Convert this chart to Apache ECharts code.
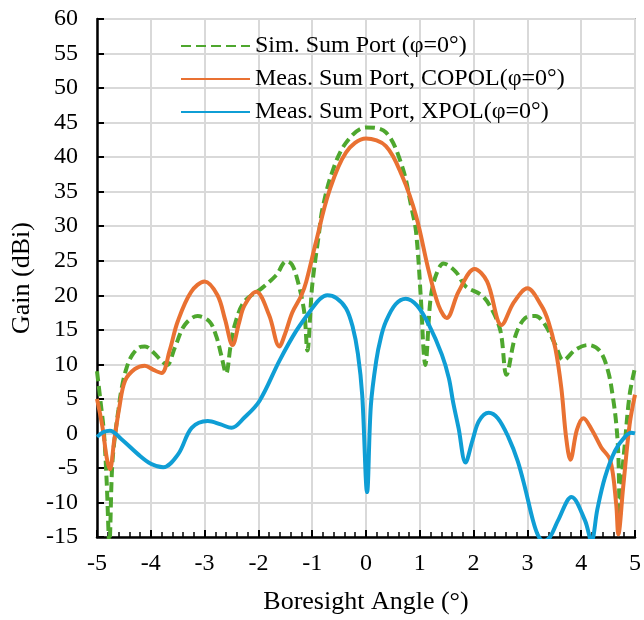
<!DOCTYPE html>
<html>
<head>
<meta charset="utf-8">
<script src="https://cdn.jsdelivr.net/npm/echarts@6/dist/echarts.min.js"></script>
<style>html,body{margin:0;padding:0;background:#fff}#c{width:644px;height:620px}</style>
</head>
<body>
<div id="c"></div>
<script>
const seriesNames = ['Sim. Sum Port (\u03c6=0\u00b0)', 'Meas. Sum Port, COPOL(\u03c6=0\u00b0)', 'Meas. Sum Port, XPOL(\u03c6=0\u00b0)'];
const xTicks = [-5, 5, 1];
const yTicks = [-15, 60, 5];

const simX = [-5.00,-4.94,-4.87,-4.82,-4.77,-4.72,-4.67,-4.60,-4.54,-4.45,-4.35,-4.20,-4.11,-3.95,-3.80,-3.70,-3.55,-3.37,-3.13,-2.91,-2.78,-2.69,-2.60,-2.52,-2.44,-2.26,-1.94,-1.67,-1.48,-1.38,-1.28,-1.15,-1.09,-1.00,-0.87,-0.81,-0.63,-0.37,0.00,0.37,0.67,0.85,0.93,1.02,1.07,1.10,1.20,1.30,1.44,1.67,1.85,2.15,2.33,2.50,2.61,2.78,2.96,3.15,3.33,3.52,3.67,3.89,4.13,4.35,4.50,4.59,4.65,4.69,4.72,4.76,4.81,4.90,5.00];
const simY = [9.0,5.0,0.0,-7.0,-16.0,-5.0,-0.6,3.5,6.6,9.5,11.3,12.5,12.6,11.7,10.5,9.9,12.5,15.7,17.0,16.2,14.0,11.3,8.7,12.5,15.7,19.1,21.0,22.9,24.9,24.5,22.4,17.7,12.0,21.4,29.2,32.5,37.8,42.1,44.3,43.6,38.7,32.5,29.2,19.5,12.0,9.9,19.5,22.9,24.6,23.4,21.3,20.0,18.1,14.8,8.5,14.2,16.7,17.0,15.7,12.8,10.6,12.1,12.8,11.9,9.0,5.2,1.5,-3.0,-12.0,-6.0,-1.6,5.6,9.5];

const copolX = [-5.00,-4.90,-4.82,-4.76,-4.68,-4.58,-4.48,-4.30,-4.11,-3.95,-3.80,-3.65,-3.50,-3.25,-3.00,-2.76,-2.62,-2.48,-2.36,-2.26,-2.04,-1.80,-1.61,-1.50,-1.37,-1.20,-1.11,-0.93,-0.69,-0.37,0.00,0.37,0.67,0.93,1.17,1.35,1.50,1.72,2.02,2.25,2.52,2.75,3.00,3.26,3.39,3.52,3.63,3.72,3.80,3.92,4.04,4.20,4.37,4.54,4.65,4.69,4.78,4.90,5.00];
const copolY = [5.0,1.0,-3.5,-5.2,-1.0,4.0,7.6,9.3,9.8,9.2,8.75,12.0,16.2,20.5,22.0,20.0,16.5,12.8,16.0,18.5,20.5,17.1,12.6,14.5,17.5,20.0,22.0,27.7,34.9,40.7,42.7,41.6,37.3,31.5,23.4,18.5,16.7,20.5,23.8,22.0,15.7,19.0,21.0,18.5,16.2,12.3,6.6,-0.6,-3.8,0.5,2.2,0.5,-2.0,-3.9,-10.2,-14.6,-7.8,1.3,5.6];

const xpolX = [-5.00,-4.88,-4.76,-4.55,-4.24,-4.00,-3.77,-3.49,-3.24,-2.94,-2.70,-2.50,-2.26,-1.98,-1.61,-1.30,-1.00,-0.85,-0.72,-0.55,-0.37,-0.25,-0.15,-0.07,0.02,0.09,0.19,0.28,0.37,0.55,0.74,0.95,1.17,1.41,1.54,1.62,1.72,1.85,1.98,2.10,2.28,2.45,2.65,2.82,2.96,3.10,3.20,3.30,3.42,3.57,3.82,4.07,4.19,4.30,4.44,4.63,4.80,4.93,5.00];
const xpolY = [-0.5,0.2,0.4,-0.8,-3.0,-4.4,-4.9,-3.0,0.8,1.8,1.3,0.8,2.3,4.7,10.5,14.8,18.1,19.5,20.0,19.6,18.1,15.5,11.5,5.5,-8.5,4.0,10.5,14.0,16.2,18.7,19.5,18.5,15.7,11.4,8.0,4.5,0.8,-4.2,-1.0,1.8,3.0,2.2,-0.6,-4.0,-8.0,-12.5,-14.8,-15.6,-15.0,-12.6,-9.2,-12.6,-15.6,-11.0,-6.4,-2.5,-0.6,0.1,0.0];

const zip = (xs, ys) => xs.map((x, i) => [x, ys[i]]);
const FONT = '"Liberation Serif", "Times New Roman", serif';
const colors = ['#4EA72E', '#E97132', '#0F9ED5'];

const chart = echarts.init(document.getElementById('c'), null, {renderer: 'canvas'});
chart.setOption({
  animation: false,
  backgroundColor: '#ffffff',
  grid: {left: 97, right: 7, top: 19, bottom: 80, show: true, borderColor: '#000', borderWidth: 1.2, backgroundColor: 'transparent'},
  legend: {
    show: true, orient: 'vertical', left: 175, top: 29,
    itemWidth: 69, itemHeight: 14, itemGap: 9,
    itemStyle: {opacity: 0},
    textStyle: {fontFamily: FONT, fontSize: 24, color: '#000'},
    data: seriesNames
  },
  xAxis: {
    type: 'value', min: xTicks[0], max: xTicks[1], interval: xTicks[2],
    name: 'Boresight Angle (\u00b0)', nameLocation: 'middle', nameGap: 52,
    nameTextStyle: {fontFamily: FONT, fontSize: 26, color: '#000'},
    axisLine: {show: true, onZero: false, lineStyle: {color: '#000', width: 2.5}},
    axisTick: {show: true, inside: true, length: 7, lineStyle: {color: '#000', width: 2}},
    minorTick: {show: true, splitNumber: 5, length: 5, lineStyle: {color: '#000', width: 1.5}},
    axisLabel: {fontFamily: FONT, fontSize: 24, color: '#000', margin: 15},
    splitLine: {show: true, lineStyle: {color: '#d9d9d9', width: 2}}
  },
  yAxis: {
    type: 'value', min: yTicks[0], max: yTicks[1], interval: yTicks[2],
    name: 'Gain (dBi)', nameLocation: 'middle', nameGap: 58,
    nameTextStyle: {fontFamily: FONT, fontSize: 26, color: '#000'},
    axisLine: {show: true, onZero: false, lineStyle: {color: '#000', width: 2.5}},
    axisTick: {show: true, inside: true, length: 7, lineStyle: {color: '#000', width: 2}},
    axisLabel: {fontFamily: FONT, fontSize: 24, color: '#000', margin: 19},
    splitLine: {show: true, lineStyle: {color: '#d9d9d9', width: 2}}
  },
  series: [
    {name: seriesNames[0], type: 'line', data: zip(simX, simY), smooth: 0.35, symbol: 'none', showSymbol: false, clip: true,
     lineStyle: {color: colors[0], width: 4, type: [10, 5]}, itemStyle: {color: colors[0]}},
    {name: seriesNames[1], type: 'line', data: zip(copolX, copolY), smooth: 0.35, symbol: 'none', showSymbol: false, clip: true,
     lineStyle: {color: colors[1], width: 4}, itemStyle: {color: colors[1]}},
    {name: seriesNames[2], type: 'line', data: zip(xpolX, xpolY), smooth: 0.35, symbol: 'none', showSymbol: false, clip: true,
     lineStyle: {color: colors[2], width: 4}, itemStyle: {color: colors[2]}}
  ]
});
</script>
</body>
</html>
